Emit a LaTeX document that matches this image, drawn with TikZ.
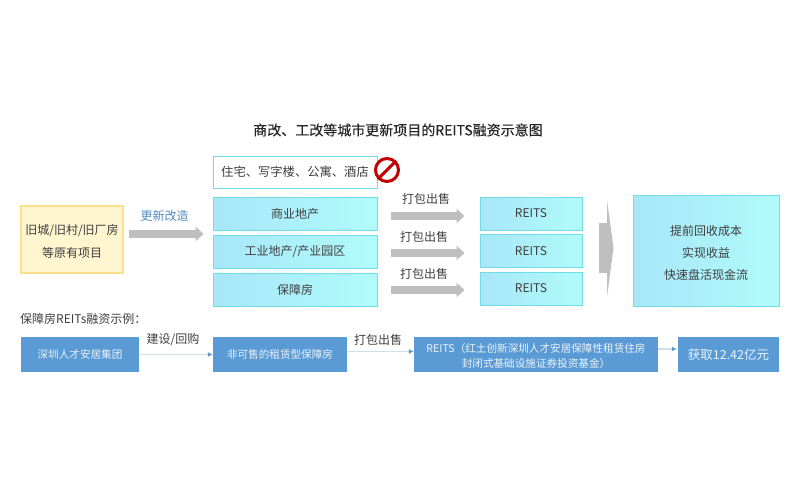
\documentclass[tikz,border=0pt]{standalone}
\usepackage{fontspec}
\setmainfont{Noto Sans CJK SC}
\newfontfamily\titlefont[FakeBold=0.15]{Noto Sans CJK SC}
\usetikzlibrary{arrows.meta,calc}
\definecolor{tx}{HTML}{3F3F3F}
\definecolor{bluebox}{HTML}{5B9BD5}
\definecolor{cyanl}{HTML}{A8E6F8}
\definecolor{cyanr}{HTML}{B0FBFB}
\definecolor{cyanb}{HTML}{6FDCE8}
\definecolor{yelb}{HTML}{FBE08C}
\definecolor{yelf}{HTML}{FFF6D0}
\definecolor{thinc}{HTML}{CFE0EC}
\tikzset{
  lab/.style={text=tx,font=\fontsize{12}{15}\selectfont,inner sep=0pt,align=center},
  cbox/.style={draw=cyanb,line width=1pt,left color=cyanl,right color=cyanr,inner sep=0pt,align=center,text=tx,font=\fontsize{12}{22}\selectfont},
  bbox/.style={fill=bluebox,inner sep=0pt,align=center,text=white!88!bluebox,font=\fontsize{10.6}{15}\selectfont},
  grayarrow/.style={draw=black!25,line width=8pt,-{Triangle[length=8pt,width=14pt]}},
  thinarrow/.style={draw=thinc,line width=1.2pt,-{Latex[length=5pt,width=5pt,bluebox]}},
}
\newcommand{\boxat}[5][cbox]{\node[#1,minimum width=#4pt,minimum height=#5pt] (#2) at (#3) }
\newcommand{\low}[1]{\rule{0pt}{#1pt}}
\begin{document}
\begin{tikzpicture}[x=1pt,y=-1pt]
\useasboundingbox[fill=white] (0,0) rectangle (800,500);
\node[lab,font=\titlefont\fontsize{14}{16}\selectfont,text=black!85] (title) at (398,130) {商改、工改等城市更新项目的REITS融资示意图};
\node[draw=yelb,line width=1.2pt,fill=yelf,minimum width=102pt,minimum height=67pt,inner sep=0pt,align=center,text=tx,font=\fontsize{12}{23}\selectfont] (old) at (72,239.5) {\low{14}旧城/旧村/旧厂房\\等原有项目};
\node[draw=cyanb,line width=1pt,fill=white,minimum width=164pt,minimum height=32pt,inner sep=0pt,text=tx,font=\fontsize{12.3}{15}\selectfont] (no) at (295,172) {住宅、写字楼、公寓、酒店};
\boxat{com}{295,213.5}{164}{33} {商业地产};
\boxat{ind}{295,251.5}{164}{33} {工业地产/产业园区};
\boxat{gua}{295,289.5}{164}{33} {保障房};
\boxat{r1}{531,213.5}{102}{33} {REITS};
\boxat{r2}{531,251}{102}{33} {REITS};
\boxat{r3}{531,288.5}{102}{33} {REITS};
\boxat{res}{706,250.5}{146}{111} {\low{16}提前回收成本\\实现收益\\快速盘活现金流};
% no-entry sign
\node[circle,draw=red!75!black,line width=3pt,minimum size=23pt,inner sep=0pt,fill=white] (stop) at (387,170) {};
\draw[red!75!black,line width=3pt] (stop.south west) -- (stop.north east);
% gray arrows
\draw[grayarrow] ($(old.east)+(5,-5.5)$) -- ($(old.east)+(80,-5.5)$);
\node[lab,text=bluebox!90!black] (renew) at (164.5,216) {更新改造};
\draw[grayarrow] ($(com.east)+(13,2.5)$) -- ($(r1.west)+(-15,2.5)$);
\draw[grayarrow] ($(ind.east)+(13,1.5)$) -- ($(r2.west)+(-15,2)$);
\draw[grayarrow] ($(gua.east)+(13,0.5)$) -- ($(r3.west)+(-15,1.5)$);
\node[lab] (p1) at (426,199) {打包出售};
\node[lab] (p2) at (424,237) {打包出售};
\node[lab] (p3) at (424,274) {打包出售};
% big arrow
\fill[black!25] (599,223) -- (607,223) -- (607,200) -- (613.5,248) -- (607,297) -- (607,273) -- (599,273) -- cycle;
% bottom row
\node[lab,anchor=west] (ex) at (20,319) {保障房REITs融资示例：};
\boxat[bbox]{b1}{80,354.5}{118}{35} {深圳人才安居集团};
\boxat[bbox]{b2}{280,354.5}{134}{35} {非可售的租赁型保障房};
\boxat[bbox]{b3}{536,354.5}{244}{35} {\low{12}REITS（红土创新深圳人才安居保障性租赁住房\\封闭式基础设施证券投资基金）};
\boxat[bbox,font=\fontsize{12.5}{15}\selectfont]{b4}{728.5,354.5}{101}{35} {获取12.42亿元};
\draw[thinarrow] (b1.east) -- (b2.west);
\draw[thinarrow] ($(b2.east)+(0,-3)$) -- ($(b3.west)+(0,-3)$);
\draw[thinarrow] ($(b3.east)+(0,-5.5)$) -- ($(b4.west)+(-1,-5.5)$);
\node[lab] (l1) at (173,340) {建设/回购};
\node[lab] (l2) at (378,340) {打包出售};
\end{tikzpicture}
\end{document}
